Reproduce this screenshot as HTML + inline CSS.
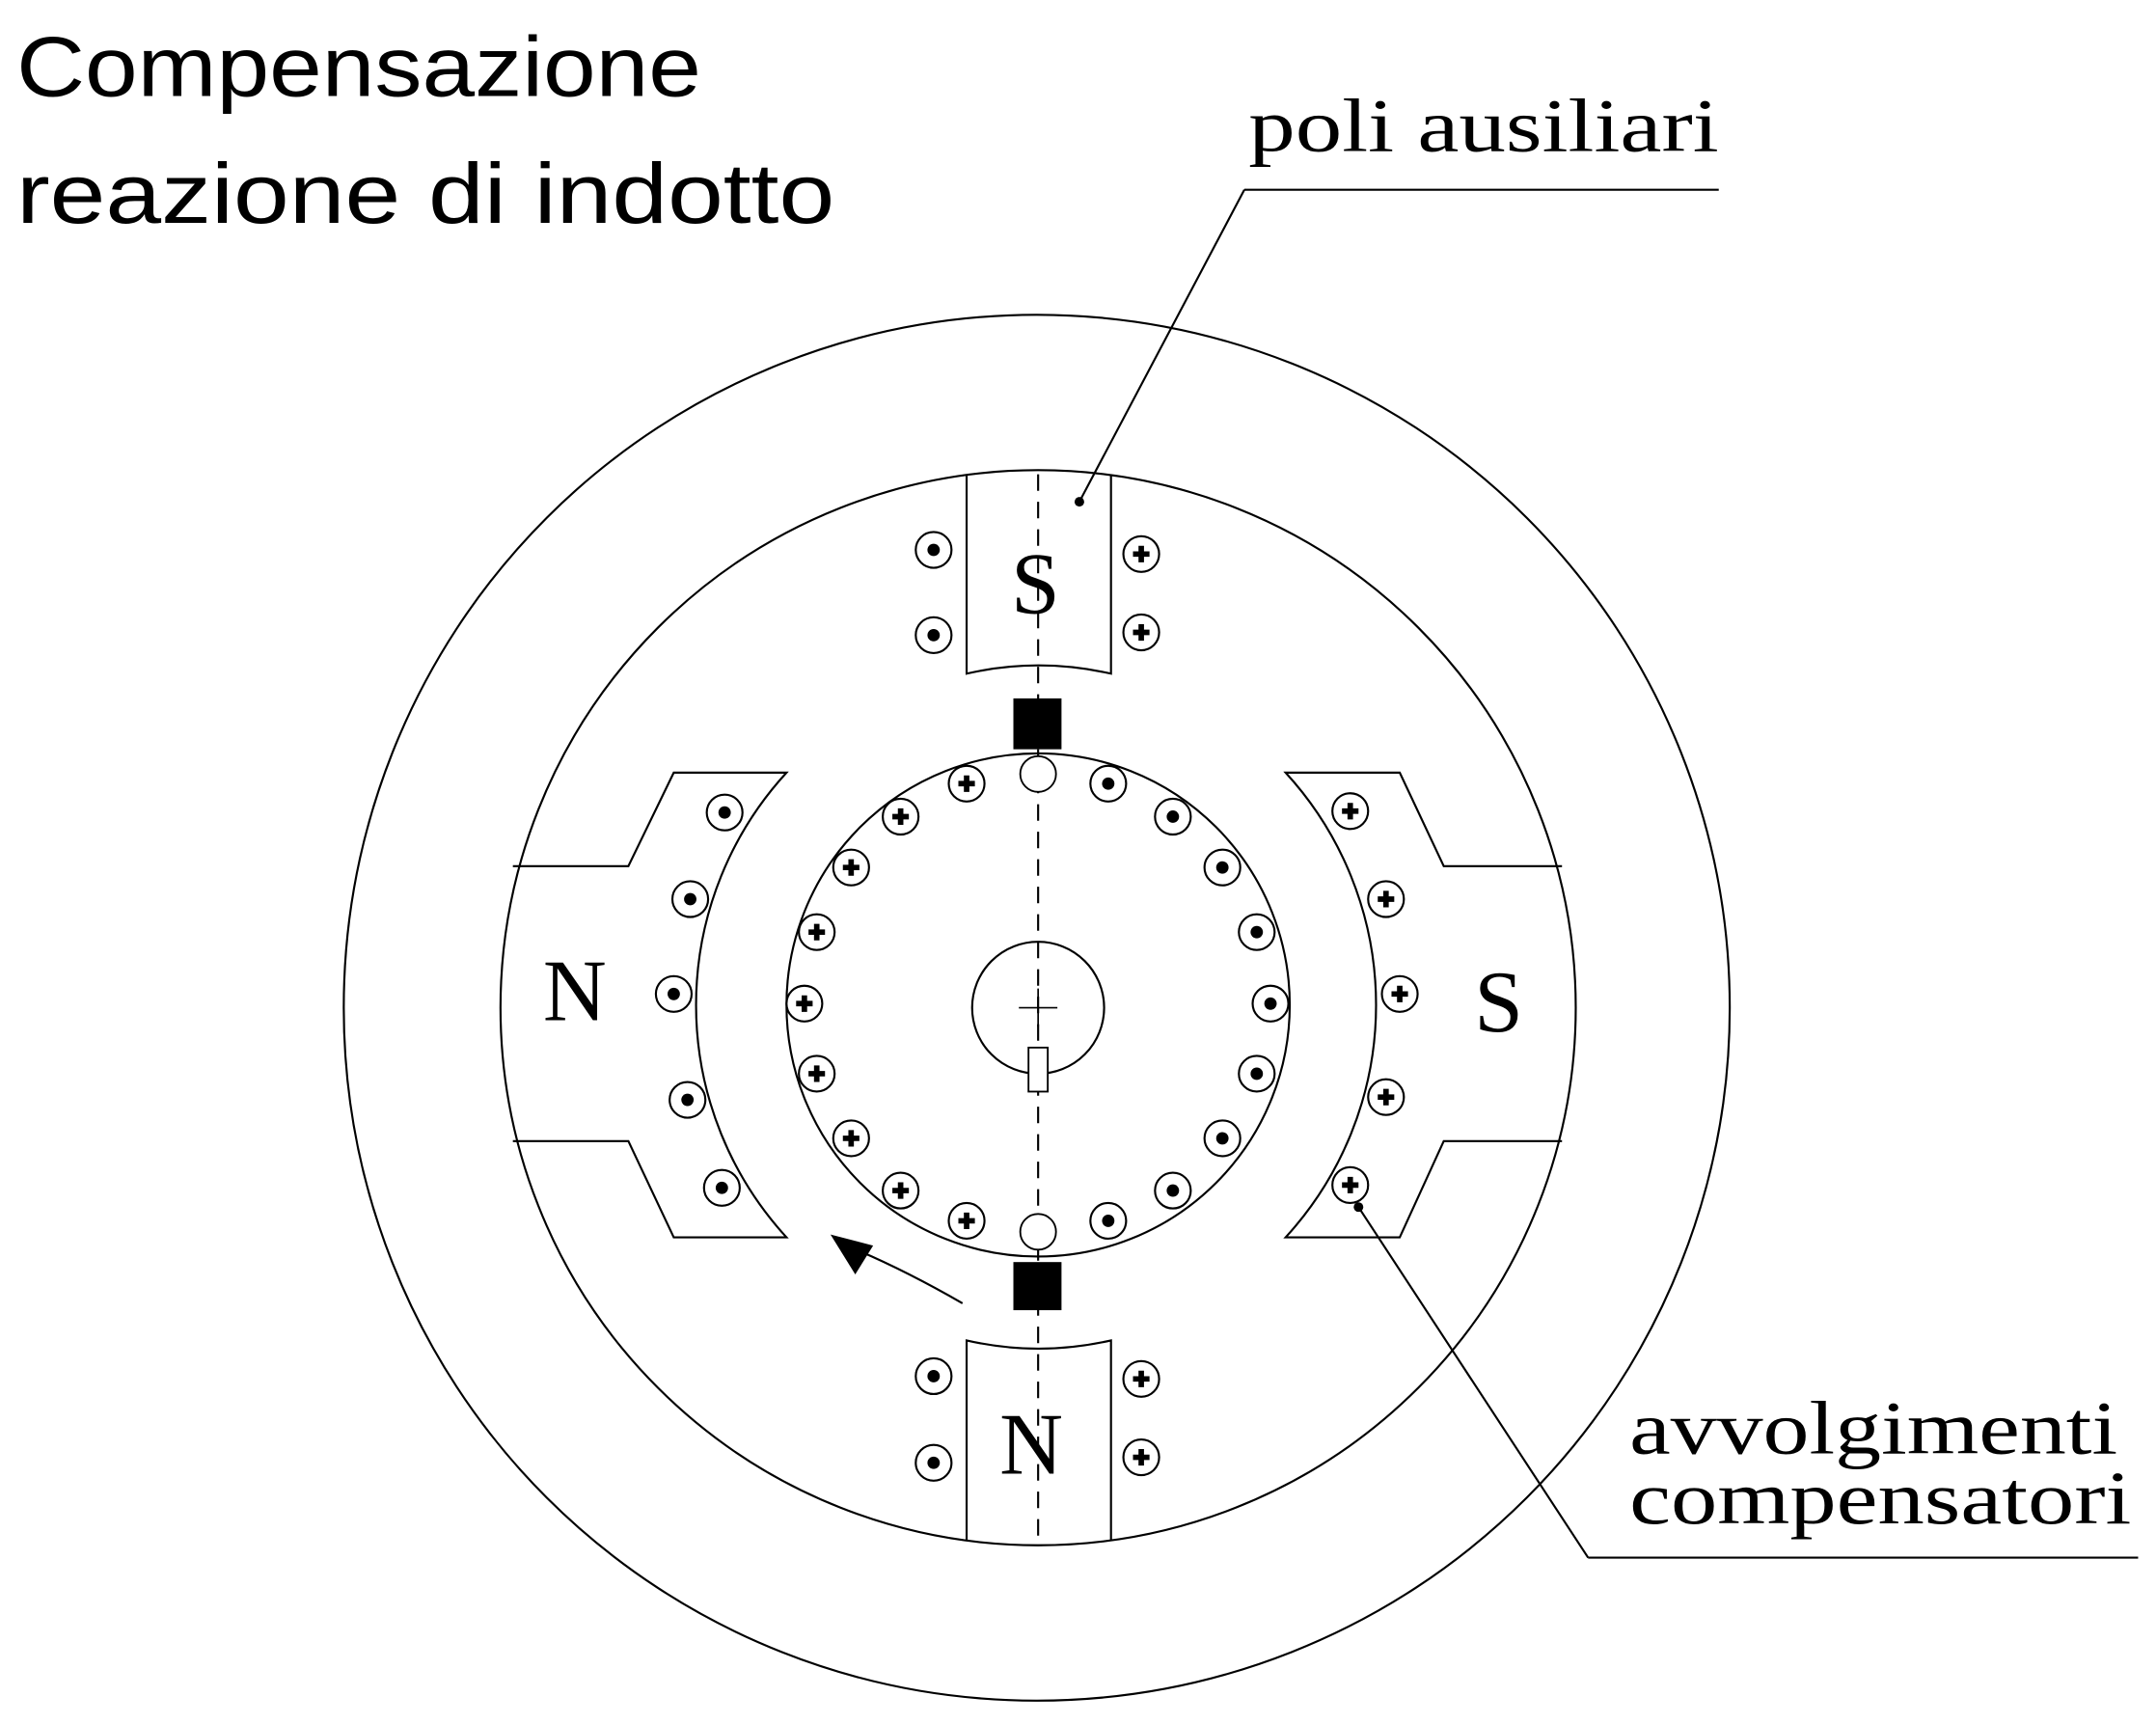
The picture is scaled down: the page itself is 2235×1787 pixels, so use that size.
<!DOCTYPE html>
<html><head><meta charset="utf-8"><style>
html,body{margin:0;padding:0;background:#fff;}
svg{display:block;}
</style></head><body>
<svg width="2235" height="1787" viewBox="0 0 1568 1254" preserveAspectRatio="none" xmlns="http://www.w3.org/2000/svg">
<defs>
<g id="dot"><circle r="13" fill="#fff" stroke="#000" stroke-width="1.5"/><circle r="4.5" fill="#000"/></g>
<g id="plus"><circle r="13" fill="#fff" stroke="#000" stroke-width="1.5"/><path d="M-6 0H6M0 -6V6" stroke="#000" stroke-width="4"/></g>
</defs>
<text x="12" y="70" font-family="Liberation Sans, sans-serif" font-size="62" textLength="498" lengthAdjust="spacingAndGlyphs">Compensazione</text>
<text x="12" y="162" font-family="Liberation Sans, sans-serif" font-size="62" textLength="595" lengthAdjust="spacingAndGlyphs">reazione di indotto</text>
<g fill="none" stroke="#000" stroke-width="1.5">
<circle cx="754" cy="733" r="504"/>
<circle cx="755" cy="733" r="391"/>
<circle cx="755" cy="731" r="183"/>
<circle cx="755" cy="733" r="48"/>
<path d="M703 345V490Q755 478 808 490V345"/>
<path d="M703 1120V975Q755 987 808 975V1120"/>
<path d="M373 630H457L490 562H572A250 250 0 0 0 572 900H490L457 830H373"/>
<path d="M1136 630H1050L1018 562H935A250 250 0 0 1 935 900H1018L1050 830H1136"/>
<path d="M755 345V1120" stroke-dasharray="12 8"/>
<path d="M741 733H769M755 719V747" stroke-width="1.2"/>
<path d="M700 948Q660 925 625 910"/>
<path d="M905 138H1250M905 138L785 365"/>
<path d="M1155 1133H1555M1155 1133L988 878"/>
</g>
<rect x="748" y="762" width="14" height="32" fill="#fff" stroke="#000" stroke-width="1.3"/>
<circle cx="785" cy="365" r="3.5"/>
<circle cx="988" cy="878" r="3.5"/>
<polygon points="604,898 635,906 622,927" fill="#000"/>
<rect x="737" y="508" width="35" height="37" fill="#000"/>
<rect x="737" y="918" width="35" height="35" fill="#000"/>
<circle cx="755" cy="563" r="13" fill="#fff" stroke="#000" stroke-width="1.3"/>
<circle cx="755" cy="896" r="13" fill="#fff" stroke="#000" stroke-width="1.3"/>
<use href="#dot" x="527" y="591"/><use href="#dot" x="502" y="654"/><use href="#dot" x="490" y="723"/><use href="#dot" x="500" y="800"/><use href="#dot" x="525" y="864"/>
<use href="#plus" x="982" y="590"/><use href="#plus" x="1008" y="654"/><use href="#plus" x="1018" y="723"/><use href="#plus" x="1008" y="798"/><use href="#plus" x="982" y="862"/>
<use href="#dot" x="679" y="400"/><use href="#dot" x="679" y="462"/><use href="#plus" x="830" y="403"/><use href="#plus" x="830" y="460"/>
<use href="#dot" x="679" y="1001"/><use href="#dot" x="679" y="1064"/><use href="#plus" x="830" y="1003"/><use href="#plus" x="830" y="1060"/>
<use href="#plus" x="703" y="570"/><use href="#plus" x="655" y="594"/><use href="#plus" x="619" y="631"/><use href="#plus" x="594" y="678"/><use href="#plus" x="585" y="730"/><use href="#plus" x="594" y="781"/><use href="#plus" x="619" y="828"/><use href="#plus" x="655" y="866"/><use href="#plus" x="703" y="888"/>
<use href="#dot" x="806" y="570"/><use href="#dot" x="853" y="594"/><use href="#dot" x="889" y="631"/><use href="#dot" x="914" y="678"/><use href="#dot" x="924" y="730"/><use href="#dot" x="914" y="781"/><use href="#dot" x="889" y="828"/><use href="#dot" x="853" y="866"/><use href="#dot" x="806" y="888"/>
<g font-family="Liberation Serif, serif" font-size="64" text-anchor="middle">
<text x="753" y="446">S</text>
<text x="750" y="1072">N</text>
<text x="418" y="742">N</text>
<text x="1090" y="750">S</text>
</g>
<g font-family="Liberation Serif, serif" font-size="55">
<text x="908" y="110" textLength="342" lengthAdjust="spacingAndGlyphs">poli ausiliari</text>
<text x="1185" y="1057" textLength="355" lengthAdjust="spacingAndGlyphs">avvolgimenti</text>
<text x="1185" y="1108" textLength="365" lengthAdjust="spacingAndGlyphs">compensatori</text>
</g>
</svg>
</body></html>
